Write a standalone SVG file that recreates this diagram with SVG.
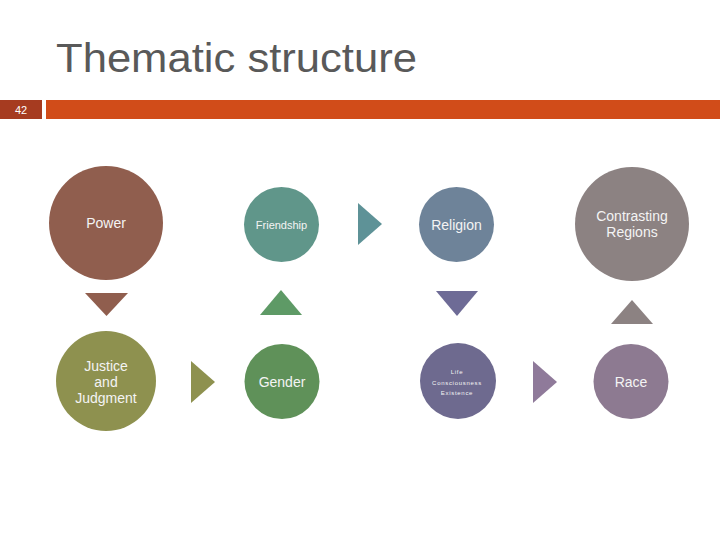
<svg xmlns="http://www.w3.org/2000/svg" width="720" height="540" viewBox="0 0 720 540">
<style>
text{font-family:"Liberation Sans",Arial,sans-serif;}
.lbl{fill:#F4F4F4;font-size:14px;text-anchor:middle;dominant-baseline:central;}
.sm{fill:#F4F4F4;font-size:11px;text-anchor:middle;dominant-baseline:central;}
.tiny{fill:#F4F4F4;font-size:6px;letter-spacing:0.7px;text-anchor:middle;dominant-baseline:central;}
</style>
<rect width="720" height="540" fill="#FFFFFF"/>
<text x="56" y="72" font-size="41" fill="#595959" textLength="361" lengthAdjust="spacingAndGlyphs">Thematic structure</text>
<rect x="0" y="100" width="42" height="19" fill="#A63B20"/>
<text x="21" y="110" font-size="11" fill="#FFFFFF" text-anchor="middle" dominant-baseline="central">42</text>
<rect x="46" y="100" width="674" height="19" fill="#D14C19"/>

<g id="power"><circle cx="106" cy="223" r="57" fill="#905E4E"/><text class="lbl" x="106" y="223">Power</text></g>
<g id="friendship"><circle cx="281.5" cy="224.5" r="37.5" fill="#60968A"/><text class="sm" x="281.5" y="224.5">Friendship</text></g>
<g id="religion"><circle cx="456.5" cy="224.5" r="37.5" fill="#6E8399"/><text class="lbl" x="456.5" y="224.5">Religion</text></g>
<g id="contrasting"><circle cx="632" cy="224" r="57" fill="#8C8282"/><text class="lbl" x="632" y="216">Contrasting</text><text class="lbl" x="632" y="232">Regions</text></g>
<g id="justice"><circle cx="106" cy="381" r="50" fill="#8E914F"/><text class="lbl" x="106" y="366">Justice</text><text class="lbl" x="106" y="382">and</text><text class="lbl" x="106" y="398">Judgment</text></g>
<g id="gender"><circle cx="282" cy="381.5" r="37.5" fill="#5F9159"/><text class="lbl" x="282" y="381.5">Gender</text></g>
<g id="life"><circle cx="458" cy="381" r="38" fill="#6E6A8F"/><text class="tiny" x="457" y="372">Life</text><text class="tiny" x="457" y="383">Consciousness</text><text class="tiny" x="457" y="393">Existence</text></g>
<g id="race"><circle cx="631" cy="381.5" r="37.5" fill="#8D7A91"/><text class="lbl" x="631" y="381.5">Race</text></g>

<g id="connectors">
<polygon points="85,293 128,293 106.5,316" fill="#905E4E"/>
<polygon points="260,315 302,315 281,290" fill="#5E9A66"/>
<polygon points="358,203 382,224 358,245" fill="#5E9297"/>
<polygon points="436,291 478,291 457,316" fill="#6E6B96"/>
<polygon points="611,324 653,324 632,300" fill="#8C8282"/>
<polygon points="191,361 215,382 191,403" fill="#8E914F"/>
<polygon points="533,361 557,382 533,403" fill="#8F7A9A"/>
</g>
</svg>
